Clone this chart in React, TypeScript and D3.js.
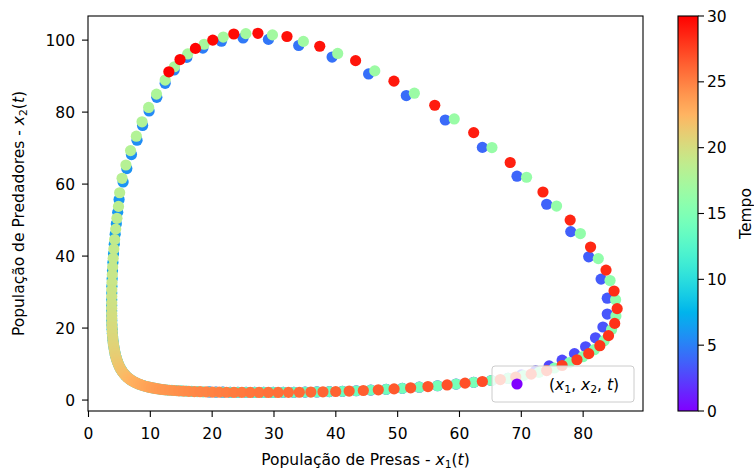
import React from 'react';
import * as d3 from 'd3';

const W = 754;
const H = 470;
const T_END = 30;

// Trajectory (x1 = prey, x2 = predators), in time order, t = 0 .. 30 in equal steps
const cycle1: [number, number][] = [
  [19.55,2.25],[20.615,2.22],[21.735,2.19],[22.92,2.16],[24.17,2.14],[25.485,2.13],[26.875,2.12],[28.34,2.11],[29.88,2.12],[31.505,2.13],
  [33.22,2.16],[35.03,2.2],[36.94,2.26],[38.95,2.34],[41.07,2.44],[43.3,2.58],[45.66,2.75],[48.145,2.98],[50.76,3.25],[53.5,3.58],
  [56.45,3.98],[59.45,4.45],[62.3,4.93],[65.15,5.43],[67.85,6.05],[70.0,7.0],[72.3,8.1],[74.5,9.5],[76.6,11.1],[78.6,12.9],
  [80.4,14.8],[82.0,17.3],[83.2,20.3],[83.9,23.9],[83.9,28.3],[82.9,33.6],[80.9,39.8],[78.0,46.8],[74.1,54.4],[69.3,62.2],
  [63.7,70.2],[57.7,77.8],[51.4,84.6],[45.3,90.6],[39.4,95.3],[34.0,98.5],[29.1,100.2],[25.0,100.6],[21.5,99.7],[18.5,97.8],
  [15.9,95.2],[13.85,91.7],[12.4,88.0],[11.05,84.1],[9.8,80.3],[8.75,76.3],[7.85,72.2],[6.95,68.2],[6.2,64.3],[5.6,60.6],
];

const cycle2: [number, number][] = [
  [4.945,55.7],[4.725,52.15],[4.5,49.0],[4.315,46.05],[4.165,43.28],[4.045,40.68],[3.95,38.2],[3.88,35.9],[3.825,33.73],[3.785,31.65],
  [3.765,29.73],[3.76,27.9],[3.755,26.25],[3.75,24.78],[3.755,23.39],[3.765,22.08],[3.785,20.84],[3.82,19.68],[3.86,18.58],[3.905,17.54],
  [3.96,16.57],[4.025,15.65],[4.1,14.78],[4.18,13.97],[4.265,13.2],[4.36,12.48],[4.465,11.8],[4.58,11.16],[4.7,10.56],[4.825,10.0],
  [4.96,9.46],[5.105,8.96],[5.26,8.48],[5.425,8.04],[5.6,7.62],[5.785,7.23],[5.975,6.86],[6.175,6.51],[6.39,6.18],[6.62,5.87],
  [6.86,5.58],[7.11,5.31],[7.37,5.06],[7.645,4.82],[7.935,4.59],[8.24,4.38],[8.56,4.19],[8.89,4.0],[9.24,3.83],[9.61,3.66],
  [9.995,3.51],[10.395,3.36],[10.815,3.23],[11.255,3.1],[11.715,2.99],[12.2,2.88],[12.79,2.78],[13.485,2.69],[14.22,2.61],[14.995,2.54],
  [15.81,2.47],[16.675,2.4],[17.585,2.35],[18.54,2.3],[19.55,2.25],[20.615,2.22],[21.735,2.19],[22.92,2.16],[24.17,2.14],[25.485,2.13],
  [26.875,2.12],[28.34,2.11],[29.88,2.12],[31.505,2.13],[33.22,2.16],[35.03,2.2],[36.94,2.26],[38.95,2.34],[41.07,2.44],[43.3,2.58],
  [45.66,2.75],[48.145,2.98],[50.76,3.25],[53.5,3.58],[56.45,3.98],[59.45,4.45],[62.3,4.93],[65.15,5.43],[67.85,6.05],[70.35,6.8],
  [72.85,7.7],[75.35,8.9],[77.8,10.4],[79.95,12.05],[81.8,14.0],[83.4,16.5],[84.6,19.6],[85.3,23.35],[85.25,27.85],[84.35,33.2],
  [82.45,39.3],[79.55,46.25],[75.7,53.9],[70.85,61.9],[65.25,70.15],[59.15,78.1],[52.7,85.25],[46.3,91.45],[40.3,96.3],[34.75,99.65],
  [29.75,101.45],[25.45,101.8],[21.8,100.85],[18.7,98.85],[16.05,96.15],[13.9,92.6],[12.4,88.9],[11.0,85.0],[9.73,81.3],[8.66,77.3],
  [7.74,73.3],[6.8,69.3],[6.05,65.3],[5.43,61.6],
];

const cycle3: [number, number][] = [
  [5.04,57.6],[4.85,53.8],[4.6,50.5],[4.4,47.5],[4.23,44.6],[4.1,41.95],[3.99,39.4],[3.91,37.0],[3.85,34.8],[3.8,32.65],
  [3.77,30.65],[3.76,28.8],[3.76,27.0],[3.75,25.49],[3.75,24.06],[3.76,22.71],[3.77,21.44],[3.8,20.24],[3.84,19.11],[3.88,18.04],
  [3.93,17.04],[3.99,16.09],[4.06,15.2],[4.14,14.36],[4.22,13.57],[4.31,12.83],[4.41,12.13],[4.52,11.47],[4.64,10.85],[4.76,10.27],
  [4.89,9.72],[5.03,9.2],[5.18,8.71],[5.34,8.25],[5.51,7.82],[5.69,7.42],[5.88,7.04],[6.07,6.68],[6.28,6.34],[6.5,6.02],
  [6.74,5.72],[6.98,5.44],[7.24,5.18],[7.5,4.93],[7.79,4.7],[8.08,4.48],[8.4,4.28],[8.72,4.09],[9.06,3.91],[9.42,3.74],
  [9.8,3.58],[10.19,3.43],[10.6,3.29],[11.03,3.16],[11.48,3.04],[11.95,2.93],[12.45,2.82],[13.13,2.73],[13.84,2.65],[14.6,2.57],
  [15.39,2.5],[16.23,2.43],[17.12,2.37],[18.05,2.32],[19.03,2.27],[20.07,2.23],[21.16,2.2],[22.31,2.17],[23.53,2.15],[24.81,2.13],
  [26.16,2.12],[27.59,2.11],[29.09,2.11],[30.67,2.12],[32.34,2.14],[34.1,2.17],[35.96,2.22],[37.92,2.29],[39.98,2.38],[42.16,2.5],
  [44.45,2.65],[46.87,2.85],[49.42,3.1],[52.1,3.4],[54.9,3.75],[58.0,4.2],[60.9,4.7],[63.7,5.15],[66.6,5.7],[69.1,6.4],
  [71.6,7.2],[74.1,8.2],[76.6,9.6],[79.0,11.2],[80.9,12.9],[82.7,15.1],[84.1,17.9],[85.1,21.3],[85.5,25.4],[85.0,30.3],
  [83.7,36.1],[81.2,42.5],[77.9,50.0],[73.5,57.8],[68.2,66.0],[62.3,74.3],[56.0,81.9],[49.4,88.6],[43.2,94.3],[37.4,98.3],
  [32.1,101.0],[27.4,101.9],[23.5,101.7],[20.1,100.0],[17.3,97.7],[14.8,94.6],[13.0,91.2],
];

const xTicks = [0, 10, 20, 30, 40, 50, 60, 70, 80];
const yTicks = [0, 20, 40, 60, 80, 100];
const cTicks = [0, 5, 10, 15, 20, 25, 30];

// matplotlib 'rainbow' colormap
const clip01 = (v: number) => Math.max(0, Math.min(1, v));
const rainbow = (v: number) => {
  const x = clip01(v);
  const r = clip01(Math.abs(2 * x - 0.5));
  const g = clip01(Math.sin(Math.PI * x));
  const b = clip01(Math.cos((Math.PI * x) / 2));
  return d3.rgb(r * 255, g * 255, b * 255).formatHex();
};

const AX = { left: 88, right: 643, top: 16, bottom: 411 };
const CB = { left: 678, right: 698, top: 16, bottom: 411 };
const FONT = 'DejaVu Sans';
const FS = 15.5;

export default function App() {
  const pts = [...cycle1, ...cycle2, ...cycle3];
  const n = pts.length;
  const data = pts.map((p, i) => ({ x1: p[0], x2: p[1], t: (i * T_END) / (n - 1) }));

  const x = d3.scaleLinear().domain([-0.08, 89.68]).range([AX.left, AX.right]);
  const y = d3.scaleLinear().domain([-3.04, 106.7]).range([AX.bottom, AX.top]);
  const c = d3.scaleLinear().domain([0, T_END]).range([CB.bottom, CB.top]);
  const colorNorm = d3.scaleLinear().domain([0, T_END]).range([0, 1]);

  const stops = d3.range(0, 65).map((i) => i / 64);

  const tickLen = 6;
  const subFs = FS * 0.7;

  return (
    <svg
      width={W}
      height={H}
      style={{ position: 'absolute', left: 0, top: 0, background: '#fff' }}
      fontFamily={FONT}
    >
      <defs>
        <linearGradient id="cbarGrad" x1="0" y1="1" x2="0" y2="0">
          {stops.map((s) => (
            <stop key={s} offset={s} stopColor={rainbow(s)} />
          ))}
        </linearGradient>
        <clipPath id="plotClip">
          <rect x={AX.left} y={AX.top} width={AX.right - AX.left} height={AX.bottom - AX.top} />
        </clipPath>
      </defs>
      <rect x={0} y={0} width={W} height={H} fill="#fff" />

      {/* points */}
      <g clipPath="url(#plotClip)">
        {data.map((d, i) => (
          <circle key={i} cx={x(d.x1)} cy={y(d.x2)} r={5.6} fill={rainbow(colorNorm(d.t))} />
        ))}
      </g>

      {/* legend */}
      <g>
        <rect x={492} y={366} width={142} height={36} rx={3} ry={3} fill="#fff" fillOpacity={0.8} stroke="#cccccc" strokeWidth={1} />
        <circle cx={517} cy={384} r={5.6} fill={rainbow(0)} />
        <text x={549} y={389.5} fontSize={FS} fill="#000">
          (<tspan fontStyle="italic">x</tspan>
          <tspan fontSize={subFs} dy={3}>1</tspan>
          <tspan dy={-3}>, </tspan>
          <tspan fontStyle="italic">x</tspan>
          <tspan fontSize={subFs} dy={3}>2</tspan>
          <tspan dy={-3}>, </tspan>
          <tspan fontStyle="italic">t</tspan>)
        </text>
      </g>

      {/* axes frame */}
      <rect x={AX.left} y={AX.top} width={AX.right - AX.left} height={AX.bottom - AX.top} fill="none" stroke="#000" strokeWidth={1.1} />

      {/* x ticks */}
      {xTicks.map((v) => (
        <g key={'x' + v}>
          <line x1={x(v)} x2={x(v)} y1={AX.bottom} y2={AX.bottom + tickLen} stroke="#000" strokeWidth={1.1} />
          <text x={x(v)} y={AX.bottom + 28} textAnchor="middle" fontSize={FS} fill="#000">
            {v}
          </text>
        </g>
      ))}
      {/* y ticks */}
      {yTicks.map((v) => (
        <g key={'y' + v}>
          <line x1={AX.left - tickLen} x2={AX.left} y1={y(v)} y2={y(v)} stroke="#000" strokeWidth={1.1} />
          <text x={AX.left - 13} y={y(v) + 5.5} textAnchor="end" fontSize={FS} fill="#000">
            {v}
          </text>
        </g>
      ))}

      {/* axis labels */}
      <text x={(AX.left + AX.right) / 2} y={465} textAnchor="middle" fontSize={FS} fill="#000">
        População de Presas - <tspan fontStyle="italic">x</tspan>
        <tspan fontSize={subFs} dy={3}>1</tspan>
        <tspan dy={-3}>(</tspan>
        <tspan fontStyle="italic">t</tspan>)
      </text>
      <text
        transform={`translate(24, ${(AX.top + AX.bottom) / 2}) rotate(-90)`}
        textAnchor="middle"
        fontSize={FS}
        fill="#000"
      >
        População de Predadores - <tspan fontStyle="italic">x</tspan>
        <tspan fontSize={subFs} dy={3}>2</tspan>
        <tspan dy={-3}>(</tspan>
        <tspan fontStyle="italic">t</tspan>)
      </text>

      {/* colorbar */}
      <rect x={CB.left} y={CB.top} width={CB.right - CB.left} height={CB.bottom - CB.top} fill="url(#cbarGrad)" />
      <rect x={CB.left} y={CB.top} width={CB.right - CB.left} height={CB.bottom - CB.top} fill="none" stroke="#000" strokeWidth={1.1} />
      {cTicks.map((v) => (
        <g key={'c' + v}>
          <line x1={CB.right} x2={CB.right + tickLen} y1={c(v)} y2={c(v)} stroke="#000" strokeWidth={1.1} />
          <text x={CB.right + tickLen + 3} y={c(v) + 5.5} textAnchor="start" fontSize={FS} fill="#000">
            {v}
          </text>
        </g>
      ))}
      <text
        transform={`translate(746, ${(CB.top + CB.bottom) / 2}) rotate(-90)`}
        textAnchor="middle"
        fontSize={FS}
        fill="#000"
        dominantBaseline="central"
      >
        Tempo
      </text>
    </svg>
  );
}
